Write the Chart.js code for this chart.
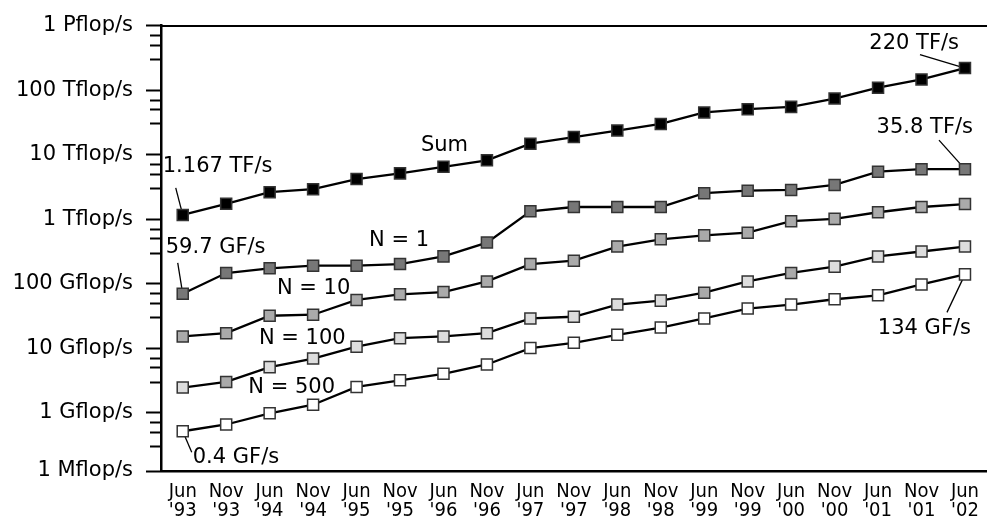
<!DOCTYPE html>
<html>
<head>
<meta charset="utf-8">
<script src="https://cdn.jsdelivr.net/npm/chart.js@4.4.0/dist/chart.umd.min.js"></script>
<style>
  html, body { margin: 0; padding: 0; background: #fff; }
  #wrap { width: 996px; height: 523px; }
</style>
</head>
<body>
<div id="wrap"><canvas id="chart" width="996" height="523"></canvas></div>
<script>
const months = ['Jun', 'Nov', 'Jun', 'Nov', 'Jun', 'Nov', 'Jun', 'Nov', 'Jun', 'Nov',
  'Jun', 'Nov', 'Jun', 'Nov', 'Jun', 'Nov', 'Jun', 'Nov', 'Jun'];
const years = ["'93", "'93", "'94", "'94", "'95", "'95", "'96", "'96", "'97", "'97",
  "'98", "'98", "'99", "'99", "'00", "'00", "'01", "'01", "'02"];

// all values in Gflop/s
const sum = [1167, 1738, 2630, 2922, 4200, 5140, 6500, 8200, 14790, 18740,
  23650, 29930, 45200, 50800, 55100, 74100, 109200, 146300, 220000];
const n1 = [70, 147, 174, 191, 191, 202, 266, 435, 1331, 1549,
  1549, 1549, 2537, 2772, 2851, 3398, 5455, 5973, 5973];
const n10 = [15.3, 17.2, 32.0, 33.2, 56.3, 68.8, 74.6, 108.9, 202, 228,
  378, 489, 563, 619, 935, 1014, 1284, 1549, 1721];
const n100 = [2.47, 3.02, 5.12, 6.95, 10.6, 14.4, 15.3, 17.2, 29.1, 30.9,
  47.7, 54.9, 72.8, 108.9, 147.4, 184.7, 265.6, 316.7, 377.7];
const n500 = [0.52, 0.662, 0.986, 1.34, 2.53, 3.20, 4.04, 5.63, 10.1, 12.2,
  16.2, 21.0, 29.1, 41.4, 47.7, 57.7, 66.4, 97.9, 140];

// broken axis: the bottom tick stands for 1 Mflop/s
const yTickValues = [0.126, 1, 10, 100, 1e3, 1e4, 1e5, 1e6];
const yTickLabels = ['1 Mflop/s', '1 Gflop/s', '10 Gflop/s', '100 Gflop/s',
  '1 Tflop/s', '10 Tflop/s', '100 Tflop/s', '1 Pflop/s'];

const minorTicks = [];
for (let e = -1; e <= 5; e++) {
  [3, 5, 7].forEach(m => minorTicks.push(m * Math.pow(10, e)));
}

const FONT = "'DejaVu Sans', sans-serif";
const XFONT = "'DejaVu Sans Condensed', 'Liberation Sans Narrow', 'Liberation Sans', sans-serif";

// N = 100 has a few points filled in the N = 10 grey
const n100Darker = [1, 12, 14];

const notes = [
  { text: '1.167 TF/s', ds: 0, i: 0, dx: -20, dy: -48, align: 'left', lead: [-7, -27] },
  { text: 'Sum', ds: 0, i: 5, dx: 44.5, dy: -28, align: 'center' },
  { text: '220 TF/s', ds: 0, i: 18, dx: -6, dy: -24.5, align: 'right', lead: [-45, -13.5] },
  { text: '59.7 GF/s', ds: 1, i: 0, dx: -17, dy: -46, align: 'left', lead: [-5, -31] },
  { text: 'N = 1', ds: 1, i: 5, dx: -1, dy: -24, align: 'center' },
  { text: '35.8 TF/s', ds: 1, i: 18, dx: 8, dy: -42, align: 'right', lead: [-26, -29] },
  { text: 'N = 10', ds: 2, i: 2, dx: 44, dy: -27, align: 'center' },
  { text: 'N = 100', ds: 3, i: 2, dx: 32.6, dy: -29, align: 'center' },
  { text: 'N = 500', ds: 4, i: 2, dx: 22, dy: -26, align: 'center' },
  { text: '0.4 GF/s', ds: 4, i: 0, dx: 10, dy: 26, align: 'left', lead: [9, 21] },
  { text: '134 GF/s', ds: 4, i: 18, dx: 6, dy: 54.5, align: 'right', lead: [-18, 38] }
];

const anchor = (chart, n) => chart.getDatasetMeta(n.ds).data[n.i];

const notesPlugin = {
  id: 'notes',
  beforeDatasetsDraw(chart) {
    const ctx = chart.ctx;
    ctx.save();
    ctx.strokeStyle = '#000';
    ctx.lineWidth = 1.3;
    notes.filter(n => n.lead).forEach(n => {
      const p = anchor(chart, n);
      ctx.beginPath();
      ctx.moveTo(p.x + n.lead[0], p.y + n.lead[1]);
      ctx.lineTo(p.x, p.y);
      ctx.stroke();
    });
    ctx.restore();
  },
  afterDatasetsDraw(chart) {
    const ctx = chart.ctx;
    ctx.save();
    ctx.fillStyle = '#000';
    ctx.font = '21px ' + FONT;
    ctx.textBaseline = 'middle';
    notes.forEach(n => {
      const p = anchor(chart, n);
      ctx.textAlign = n.align;
      ctx.fillText(n.text, p.x + n.dx, p.y + n.dy);
    });
    ctx.restore();
  }
};

const series = [
  { label: 'Sum', data: sum, fill: '#000' },
  { label: 'N = 1', data: n1, fill: '#777' },
  { label: 'N = 10', data: n10, fill: '#aaa' },
  { label: 'N = 100', data: n100, fill: c => n100Darker.includes(c.dataIndex) ? '#aaa' : '#ddd' },
  { label: 'N = 500', data: n500, fill: '#fff' }
];

new Chart(document.getElementById('chart'), {
  type: 'line',
  data: {
    labels: months.map((m, i) => [m, years[i]]),
    datasets: series.map(s => ({
      label: s.label,
      data: s.data,
      yAxisID: 'y',
      borderColor: '#000',
      borderWidth: 2.3,
      tension: 0,
      pointStyle: 'rect',
      pointRadius: 7.8,
      pointBackgroundColor: s.fill,
      pointBorderColor: '#333',
      pointBorderWidth: 1.5
    }))
  },
  options: {
    responsive: false,
    animation: false,
    layout: { padding: { top: 20.5, right: -2, bottom: 0, left: 0 } },
    plugins: { legend: { display: false }, tooltip: { enabled: false } },
    scales: {
      x: {
        type: 'category',
        offset: true,
        grid: { display: false, drawTicks: false },
        border: { display: true, color: '#000', width: 2.5 },
        ticks: {
          color: '#000',
          font: { family: XFONT, size: 20, lineHeight: '19px' },
          padding: 11.5,
          maxRotation: 0,
          autoSkip: false
        },
        afterFit: s => { s.height = 52; }
      },
      x2: {
        type: 'category',
        position: 'top',
        offset: true,
        grid: { display: false, drawTicks: false },
        border: { display: true, color: '#000', width: 2 },
        ticks: { display: false },
        afterFit: s => { s.height = 0; }
      },
      y: {
        type: 'logarithmic',
        position: 'left',
        min: yTickValues[0],
        max: yTickValues[yTickValues.length - 1],
        afterBuildTicks: s => { s.ticks = yTickValues.map(v => ({ value: v })); },
        ticks: {
          color: '#000',
          font: { family: FONT, size: 21 },
          padding: 13,
          autoSkip: false,
          callback: v => yTickLabels[yTickValues.indexOf(v)]
        },
        grid: { drawOnChartArea: false, drawTicks: true, tickLength: 15, tickWidth: 2, tickColor: '#000' },
        border: { display: true, color: '#000', width: 2.5 },
        afterFit: s => { s.width = 161; }
      },
      yMinor: {
        type: 'logarithmic',
        position: 'left',
        weight: -1,
        min: yTickValues[0],
        max: yTickValues[yTickValues.length - 1],
        afterBuildTicks: s => { s.ticks = minorTicks.map(v => ({ value: v })); },
        ticks: { display: false, autoSkip: false },
        grid: { drawOnChartArea: false, drawTicks: true, tickLength: 11, tickWidth: 2, tickColor: '#000' },
        border: { display: false },
        afterFit: s => { s.width = 0; }
      }
    }
  },
  plugins: [notesPlugin]
});
</script>
</body>
</html>
